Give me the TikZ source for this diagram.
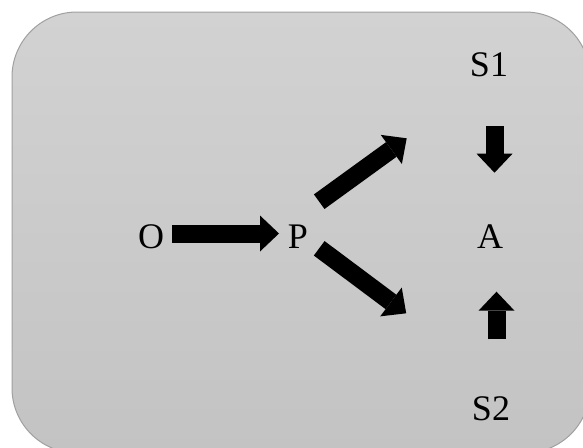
\documentclass[tikz,border=0pt]{standalone}
\usepackage{fontspec}
\setmainfont{Liberation Serif}
\usetikzlibrary{arrows.meta}
\definecolor{frame}{HTML}{A0A0A0}
\definecolor{bgtop}{HTML}{D2D2D2}
\definecolor{bgbot}{HTML}{C3C3C3}
\tikzset{
  lbl/.style={anchor=base, inner sep=0pt, font=\fontsize{36}{40}\selectfont},
  blk/.style={line width=18pt, black, -{Triangle[length=19pt,width=36pt,line width=0pt]}}
}
\begin{document}
\begin{tikzpicture}[x=1pt,y=-1pt]
\useasboundingbox (0,0) rectangle (583,447);
\clip (0,0) rectangle (583,447);
\draw[draw=frame, top color=bgtop, bottom color=bgbot, rounded corners=65pt, line width=1pt]
  (12,12) rectangle (590,453);
% labels
\node[lbl] (O)  at (151,248.5) {O};
\node[lbl] (P)  at (298,248.5) {P};
\node[lbl] (A)  at (490,248.5) {A};
\node[lbl] (S1) at (489,76.5) {S1};
\node[lbl] (S2) at (491,420) {S2};
% arrow ends
\coordinate (op1) at (172,233.5);
\coordinate (op2) at (279,233.5);
\coordinate (pu1) at (319.2,201.7);
\coordinate (pu2) at (406.7,138.3);
\coordinate (pd1) at (319.2,248.3);
\coordinate (pd2) at (406.2,313.3);
\coordinate (sa1) at (494.5,126);
\coordinate (sa2) at (494.5,172.7);
\coordinate (sb1) at (496.5,339.3);
\coordinate (sb2) at (496.5,291.7);
% arrows
\draw[blk] (op1) -- (op2);
\draw[blk] (pu1) -- (pu2);
\draw[blk] (pd1) -- (pd2);
\draw[blk] (sa1) -- (sa2);
\draw[blk] (sb1) -- (sb2);
\end{tikzpicture}
\end{document}
